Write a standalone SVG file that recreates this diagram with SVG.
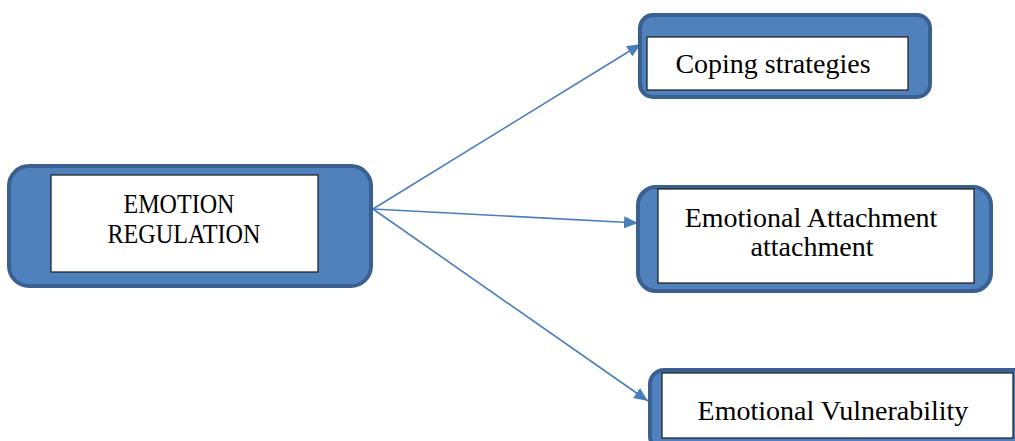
<svg xmlns="http://www.w3.org/2000/svg" width="1015" height="441" viewBox="0 0 1015 441">
<style>
.outer{fill:#4f81bd;stroke:#3a6091;stroke-width:4}
.inner{fill:#ffffff;stroke:#1a1a1a;stroke-width:1.2}
.lbl{font-family:"Liberation Serif","Times New Roman",serif;fill:#000;text-anchor:middle}
.conn{stroke:#4a7ebb;stroke-width:1.6;fill:none}
</style>
<defs>
<marker id="ah" viewBox="0 0 14 12" refX="14" refY="6" markerWidth="14" markerHeight="12" markerUnits="userSpaceOnUse" orient="auto">
<path d="M0,0 L14,6 L0,12 Z" fill="#4a7ebb"/>
</marker>
</defs>
<g id="connectors">
<line class="conn" x1="373" y1="209" x2="641" y2="44" marker-end="url(#ah)"/>
<line class="conn" x1="373" y1="209" x2="638" y2="223" marker-end="url(#ah)"/>
<line class="conn" x1="373" y1="209" x2="648" y2="401" marker-end="url(#ah)"/>
</g>
<g id="emotion-regulation">
<rect class="outer" x="9" y="166" width="362" height="120" rx="20"/>
<rect class="inner" x="51" y="175" width="267" height="97"/>
<text class="lbl" x="179" y="213" font-size="27" textLength="111" lengthAdjust="spacingAndGlyphs">EMOTION</text>
<text class="lbl" x="184" y="243" font-size="27" textLength="153" lengthAdjust="spacingAndGlyphs">REGULATION</text>
</g>
<g id="coping-strategies">
<rect class="outer" x="640" y="15" width="290" height="82" rx="13"/>
<rect class="inner" x="647" y="37" width="261" height="53"/>
<text class="lbl" x="773" y="73" font-size="28">Coping strategies</text>
</g>
<g id="emotional-attachment">
<rect class="outer" x="638" y="187" width="353" height="104" rx="18"/>
<rect class="inner" x="658" y="189" width="316" height="94"/>
<text class="lbl" x="811" y="227" font-size="28">Emotional Attachment</text>
<text class="lbl" x="812" y="256" font-size="28">attachment</text>
</g>
<g id="emotional-vulnerability">
<rect class="outer" x="650" y="370" width="380" height="80" rx="14"/>
<rect class="inner" x="662" y="373" width="351" height="65"/>
<text class="lbl" x="833" y="420" font-size="28">Emotional Vulnerability</text>
</g>
</svg>
